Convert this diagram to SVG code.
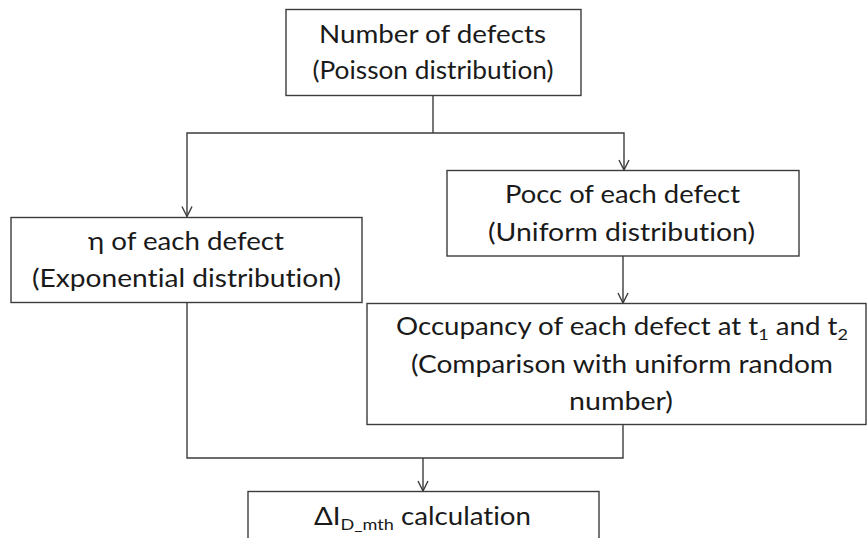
<svg xmlns="http://www.w3.org/2000/svg" width="867" height="538" viewBox="0 0 867 538">
<style>
.box{fill:#fff;stroke:#3c3c3c;stroke-width:1.4}
.ln{fill:none;stroke:#3c3c3c;stroke-width:1.4}
.t{font-family:Lato,"Liberation Sans",sans-serif;font-size:24.5px;fill:#1a1a1a;text-anchor:middle;font-variant-ligatures:none;font-feature-settings:"liga" 0,"clig" 0,"dlig" 0}
.sub{font-size:16px}
</style>
<defs>
<marker id="ah" viewBox="0 0 12 12" refX="11" refY="6" markerWidth="12" markerHeight="12" markerUnits="userSpaceOnUse" orient="auto">
<path d="M1,1 L11,6 L1,11" fill="none" stroke="#3c3c3c" stroke-width="1.4"/>
</marker>
</defs>
<rect width="867" height="538" fill="#fff"/>
<g id="connectors">
<path class="ln" d="M433,95 V133"/>
<path class="ln" d="M433,133 H187 V216.5" marker-end="url(#ah)"/>
<path class="ln" d="M433,133 H624 V170" marker-end="url(#ah)"/>
<path class="ln" d="M623,256 V303" marker-end="url(#ah)"/>
<path class="ln" d="M187,302 V458 H623 V424"/>
<path class="ln" d="M423,458 V491" marker-end="url(#ah)"/>
</g>
<g id="node-number">
<rect class="box" x="286" y="9.5" width="295" height="86"/>
<text class="t" x="432.5" y="43" textLength="227" lengthAdjust="spacingAndGlyphs">Number of defects</text>
<text class="t" x="433" y="79" textLength="241" lengthAdjust="spacingAndGlyphs">(Poisson distribution)</text>
</g>
<g id="node-eta">
<rect class="box" x="11" y="217.5" width="351" height="85"/>
<text class="t" x="186" y="250" textLength="196" lengthAdjust="spacingAndGlyphs">η of each defect</text>
<text class="t" x="186.5" y="287" textLength="309" lengthAdjust="spacingAndGlyphs">(Exponential distribution)</text>
</g>
<g id="node-pocc">
<rect class="box" x="447" y="170.5" width="352" height="85.5"/>
<text class="t" x="622.5" y="203" textLength="235" lengthAdjust="spacingAndGlyphs">Pocc of each defect</text>
<text class="t" x="621.5" y="240.5" textLength="267" lengthAdjust="spacingAndGlyphs">(Uniform distribution)</text>
</g>
<g id="node-occupancy">
<rect class="box" x="367" y="303.5" width="499" height="121"/>
<text class="t" x="622" y="335" textLength="452" lengthAdjust="spacingAndGlyphs">Occupancy of each defect at t<tspan class="sub" dy="5">1</tspan><tspan dy="-5"> and t</tspan><tspan class="sub" dy="5">2</tspan></text>
<text class="t" x="622" y="373" textLength="422" lengthAdjust="spacingAndGlyphs">(Comparison with uniform random</text>
<text class="t" x="621" y="410" textLength="104" lengthAdjust="spacingAndGlyphs">number)</text>
</g>
<g id="node-calc">
<rect class="box" x="248" y="491.5" width="351" height="60"/>
<text class="t" x="422.5" y="525" textLength="217" lengthAdjust="spacingAndGlyphs">ΔI<tspan class="sub" dy="5">D_mth</tspan><tspan dy="-5"> calculation</tspan></text>
</g>
</svg>
